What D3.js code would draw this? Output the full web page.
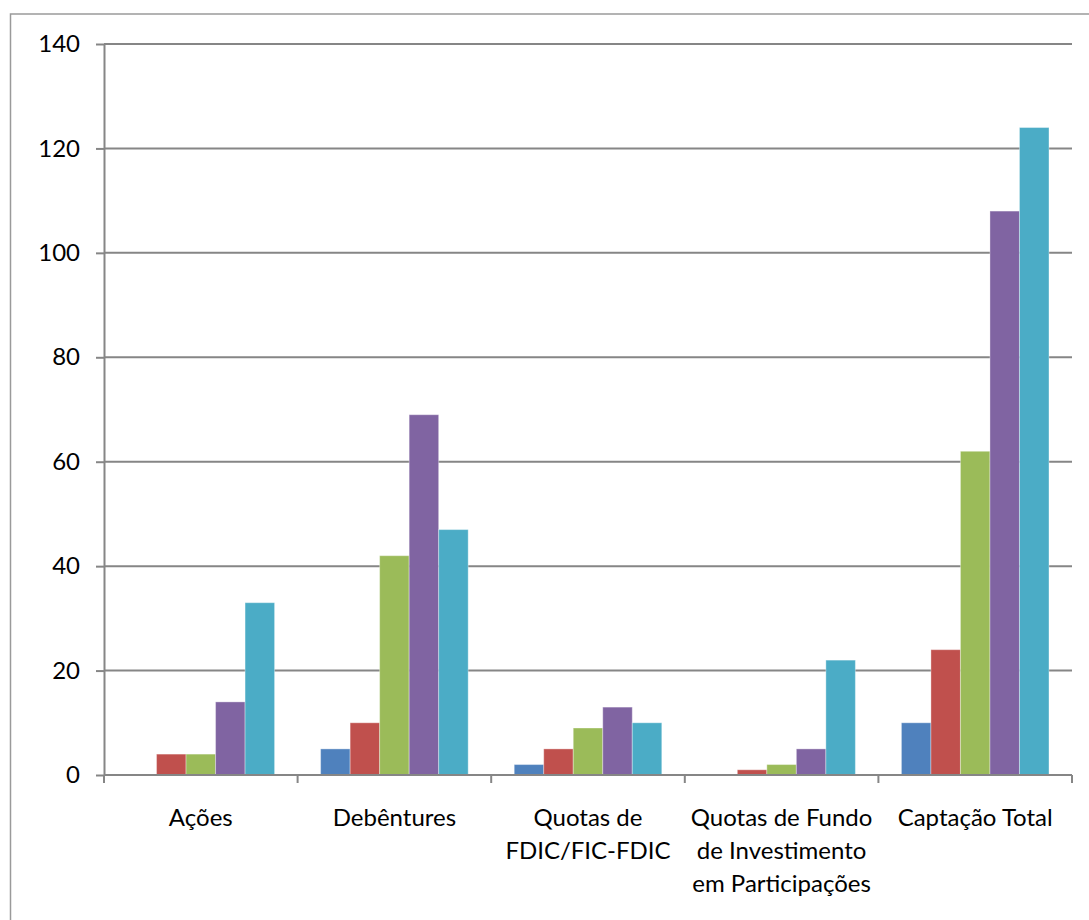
<!DOCTYPE html>
<html>
<head>
<meta charset="utf-8">
<script src="https://cdn.jsdelivr.net/npm/d3@7"></script>
<style>
  body { margin: 0; background: #fff; }
  svg { display: block; font-family: Lato, "Open Sans", sans-serif; }
</style>
</head>
<body>
<div id="chart"></div>
<script>
// categories (line breaks as in the picture)
const categories = ["Ações", "Debêntures", "Quotas de\nFDIC/FIC-FDIC", "Quotas de Fundo\nde Investimento\nem Participações", "Captação Total"]
const seriesNames = ["Série 1", "Série 2", "Série 3", "Série 4", "Série 5"]
const seriesColors = ["#4F81BD", "#C0504D", "#9BBB59", "#8064A2", "#4BACC6"]
// values per series, one entry per category
const serie1 = [0, 5, 2, 0, 10]
const serie2 = [4, 10, 5, 1, 24]
const serie3 = [4, 42, 9, 2, 62]
const serie4 = [14, 69, 13, 5, 108]
const serie5 = [33, 47, 10, 22, 124]
const yTicks = [0, 20, 40, 60, 80, 100, 120, 140]
const titleText = "(Em bilhões de reais)"

const allSeries = [serie1, serie2, serie3, serie4, serie5]

const width = 1089
const height = 920
const plotLeft = 104, plotRight = 1072, plotTop = 44, plotBottom = 775
const gridColor = "#868686"

const svg = d3.select("#chart").append("svg")
    .attr("width", width)
    .attr("height", height)
    .attr("viewBox", [0, 0, width, height])

// outer frame of the chart area (runs off the page on right/bottom)
svg.append("rect")
    .attr("x", 10.5).attr("y", 14)
    .attr("width", 1200).attr("height", 1200)
    .attr("fill", "none")
    .attr("stroke", "#9a9a9a")
    .attr("stroke-width", 1.5)

// title, mostly cut off above the page (as in the source)
svg.append("text")
    .attr("x", 567).attr("y", -4.5)
    .attr("text-anchor", "middle")
    .attr("font-size", 24)
    .attr("textLength", 262)
    .attr("fill", "#000")
    .text(titleText)

const x0 = d3.scaleBand(categories, [plotLeft, plotRight]).padding(0)
const x1 = d3.scaleBand(seriesNames, [0, x0.bandwidth()]).paddingInner(0).paddingOuter(0.78)
const y = d3.scaleLinear([0, 140], [plotBottom, plotTop])

// gridlines
svg.append("g")
    .selectAll("line")
    .data(yTicks.filter(d => d > 0))
    .join("line")
    .attr("x1", plotLeft).attr("x2", plotRight)
    .attr("y1", d => y(d)).attr("y2", d => y(d))
    .attr("stroke", gridColor)
    .attr("stroke-width", 2)

// y axis
const yAxis = svg.append("g")
    .attr("transform", `translate(${plotLeft},0)`)
    .call(d3.axisLeft(y).tickValues(yTicks).tickSize(8).tickPadding(16).tickSizeOuter(0))
yAxis.select(".domain").attr("stroke", gridColor).attr("stroke-width", 2)
yAxis.selectAll(".tick line").attr("stroke", gridColor).attr("stroke-width", 2)
yAxis.selectAll(".tick text")
    .attr("font-size", 24)
    .attr("font-family", "Lato, sans-serif")
    .attr("fill", "#000")

// bars
const rows = categories.map((c, ci) => ({ cat: c, vals: allSeries.map((s, si) => ({ name: seriesNames[si], color: seriesColors[si], value: s[ci] })) }))

const groups = svg.append("g")
    .selectAll("g")
    .data(rows)
    .join("g")
    .attr("transform", d => `translate(${x0(d.cat)},0)`)

groups.selectAll("rect")
    .data(d => d.vals.filter(v => v.value > 0))
    .join("rect")
    .attr("x", v => x1(v.name))
    .attr("y", v => y(v.value))
    .attr("width", x1.bandwidth())
    .attr("height", v => y(0) - y(v.value))
    .attr("fill", v => v.color)
    .attr("stroke", "rgba(255,255,255,0.35)")
    .attr("stroke-width", 1)

// x axis line with boundary ticks
svg.append("line")
    .attr("x1", plotLeft).attr("x2", plotRight)
    .attr("y1", plotBottom).attr("y2", plotBottom)
    .attr("stroke", gridColor).attr("stroke-width", 2)

svg.append("g")
    .selectAll("line")
    .data(d3.range(categories.length + 1))
    .join("line")
    .attr("x1", i => plotLeft + i * x0.step())
    .attr("x2", i => plotLeft + i * x0.step())
    .attr("y1", plotBottom).attr("y2", plotBottom + 8)
    .attr("stroke", gridColor).attr("stroke-width", 2)

// category labels
const labels = svg.append("g")
    .selectAll("text")
    .data(categories)
    .join("text")
    .attr("x", d => x0(d) + x0.bandwidth() / 2)
    .attr("y", 826)
    .attr("text-anchor", "middle")
    .attr("font-size", 24)
    .attr("fill", "#000")

labels.selectAll("tspan")
    .data(d => d.split("\n"))
    .join("tspan")
    .attr("x", function () { return d3.select(this.parentNode).attr("x") })
    .attr("dy", (d, i) => i === 0 ? 0 : 33)
    .text(d => d)
</script>
</body>
</html>
